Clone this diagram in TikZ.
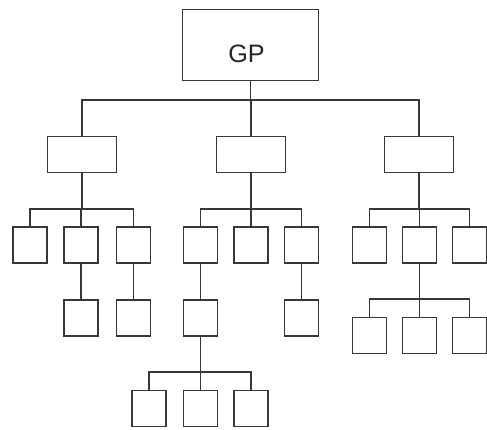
\documentclass[tikz,border=0pt]{standalone}
\usepackage{fontspec}
\setmainfont{Liberation Sans}
\begin{document}
\begin{tikzpicture}[x=0.03cm,y=-0.03cm,
  box/.style={draw=black!78,line width=1.6pt,inner sep=0pt,minimum width=1.02cm,minimum height=1.08cm},
  midbox/.style={box,minimum width=2.07cm},
  topbox/.style={box,minimum width=4.08cm,minimum height=2.13cm},
  link/.style={draw=black!78,line width=1.6pt}]
\useasboundingbox (0,0) rectangle (487,430);
\fill[white] (0,0) rectangle (487,430);
% nodes
\node[topbox] (gp) at (250.5,45) {};
\node[font=\fontsize{21.5}{24}\selectfont,text=black!85] (gpt) at (246.5,54) {GP};
\node[midbox] (a) at (82,154.5) {};
\node[midbox] (b) at (251,154.5) {};
\node[midbox] (c) at (419,154.5) {};
% left group
\node[box] (a1) at (30,245) {};
\node[box] (a2) at (81,245) {};
\node[box] (a3) at (133.5,245) {};
\node[box] (a21) at (81,318) {};
\node[box] (a31) at (133.5,318) {};
% middle group
\node[box] (b1) at (200.5,245) {};
\node[box] (b2) at (251,245) {};
\node[box] (b3) at (301.5,245) {};
\node[box] (b11) at (200.5,318) {};
\node[box] (b31) at (301.5,318) {};
\node[box] (b111) at (149,408.5) {};
\node[box] (b112) at (200.5,408.5) {};
\node[box] (b113) at (251,408.5) {};
% right group
\node[box] (c1) at (369.5,245) {};
\node[box] (c2) at (419.5,245) {};
\node[box] (c3) at (469.5,245) {};
\node[box] (c21) at (369.5,335.5) {};
\node[box] (c22) at (419.5,335.5) {};
\node[box] (c23) at (469.5,335.5) {};
% bar levels
\coordinate (y1) at (0,100);
\coordinate (y2) at (0,209);
\coordinate (y3) at (0,299);
\coordinate (y4) at (0,372);
% connectors
\foreach \ch in {a,b,c}
  \draw[link] (gp.south) -- (gp.south |- y1) -| (\ch.north);
\foreach \ch in {a1,a2,a3}
  \draw[link] (a.south) -- (a.south |- y2) -| (\ch.north);
\foreach \ch in {b1,b2,b3}
  \draw[link] (b.south) -- (b.south |- y2) -| (\ch.north);
\foreach \ch in {c1,c2,c3}
  \draw[link] (c.south) -- (c.south |- y2) -| (\ch.north);
\draw[link] (a2.south) -- (a21.north);
\draw[link] (a3.south) -- (a31.north);
\draw[link] (b1.south) -- (b11.north);
\draw[link] (b3.south) -- (b31.north);
\foreach \ch in {b111,b112,b113}
  \draw[link] (b11.south) -- (b11.south |- y4) -| (\ch.north);
\foreach \ch in {c21,c22,c23}
  \draw[link] (c2.south) -- (c2.south |- y3) -| (\ch.north);
\end{tikzpicture}
\end{document}
